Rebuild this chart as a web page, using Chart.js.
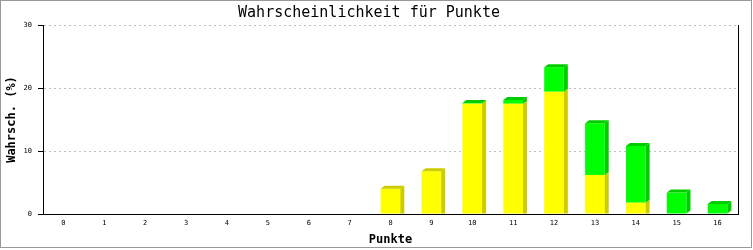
<!DOCTYPE html>
<html>
<head>
<meta charset="utf-8">
<script src="https://cdn.jsdelivr.net/npm/chart.js@4.4.1/dist/chart.umd.min.js"></script>
<style>
  html, body { margin: 0; padding: 0; background: #fff; }
  canvas { display: block; }
</style>
</head>
<body>
<canvas id="chart" width="753" height="250"></canvas>
<script>
const CATEGORIES  = ['0','1','2','3','4','5','6','7','8','9','10','11','12','13','14','15','16'];
const SERIES_GELB = [0, 0, 0, 0, 0, 0, 0, 0, 4.0, 6.8, 17.5, 17.5, 19.4, 6.2, 1.8, 0, 0];
const SERIES_GRUEN = [0, 0, 0, 0, 0, 0, 0, 0, 0, 0, 0.1, 0.6, 3.9, 8.2, 9.0, 3.4, 1.6];
const Y_TICKS     = [0, 10, 20, 30];

const TITLE   = 'Wahrscheinlichkeit für Punkte';
const X_TITLE = 'Punkte';
const Y_TITLE = 'Wahrsch. (%)';

const MONO  = '"DejaVu Sans Mono", monospace';
const DEPTH_X = 4;
const DEPTH_Y = 3;

const SIDE_COLORS = ['#cccc00', '#00cc00'];

// side and top faces for the fake 3d look
const bar3d = {
  id: 'bar3d',
  afterDatasetsDraw(chart) {
    const ctx = chart.ctx;
    const n = CATEGORIES.length;
    for (let i = 0; i < n; i++) {
      let topIdx = -1;
      chart.data.datasets.forEach((ds, di) => { if (ds.data[i] > 0) topIdx = di; });
      chart.data.datasets.forEach((ds, di) => {
        if (!(ds.data[i] > 0)) return;
        const el = chart.getDatasetMeta(di).data[i];
        const right = el.x + el.width / 2;
        const left  = el.x - el.width / 2;
        const top   = el.y;
        const bot   = el.base;
        ctx.save();
        ctx.fillStyle = SIDE_COLORS[di];
        ctx.beginPath();
        ctx.moveTo(right, bot);
        ctx.lineTo(right + DEPTH_X, di === 0 ? bot : bot - DEPTH_Y);
        ctx.lineTo(right + DEPTH_X, top - DEPTH_Y);
        ctx.lineTo(right, top);
        ctx.closePath();
        ctx.fill();
        if (di === topIdx) {
          ctx.beginPath();
          ctx.moveTo(left, top);
          ctx.lineTo(left + DEPTH_X, top - DEPTH_Y);
          ctx.lineTo(right + DEPTH_X, top - DEPTH_Y);
          ctx.lineTo(right, top);
          ctx.closePath();
          ctx.fill();
        }
        ctx.restore();
      });
    }
  },
  afterDraw(chart) {
    const ctx = chart.ctx;
    const a = chart.chartArea;
    ctx.save();
    // right frame line of the plot
    ctx.strokeStyle = '#000';
    ctx.lineWidth = 1;
    ctx.beginPath();
    ctx.moveTo(Math.round(a.right) + 0.5, a.top);
    ctx.lineTo(Math.round(a.right) + 0.5, a.bottom + 0.5);
    ctx.stroke();
    // grey picture border
    ctx.strokeStyle = '#999999';
    ctx.strokeRect(0.5, 0.5, 751, 247);
    ctx.restore();
  }
};

const whiteBg = {
  id: 'whiteBg',
  beforeDraw(chart) {
    const ctx = chart.ctx;
    ctx.save();
    ctx.fillStyle = '#fff';
    ctx.fillRect(0, 0, chart.width, chart.height);
    ctx.restore();
  }
};

new Chart(document.getElementById('chart').getContext('2d'), {
  type: 'bar',
  data: {
    labels: CATEGORIES,
    datasets: [
      {
        label: 'gelb',
        data: SERIES_GELB,
        backgroundColor: '#ffff00',
        borderWidth: 0,
        barPercentage: 0.48,
        categoryPercentage: 1.0,
      },
      {
        label: 'gruen',
        data: SERIES_GRUEN,
        backgroundColor: '#00ff00',
        borderWidth: 0,
        barPercentage: 0.48,
        categoryPercentage: 1.0,
      }
    ]
  },
  options: {
    responsive: false,
    animation: false,
    devicePixelRatio: 1,
    layout: { padding: { left: 0, right: 15, top: 0, bottom: 0 } },
    plugins: {
      legend: { display: false },
      tooltip: { enabled: false },
      title: {
        display: true,
        text: TITLE,
        color: '#000',
        font: { family: MONO, size: 15, weight: 'normal', lineHeight: 1 },
        padding: { top: 6, bottom: 4 },
      }
    },
    scales: {
      x: {
        stacked: true,
        grid: { display: false, drawTicks: false },
        border: { display: true, color: '#000', width: 1 },
        ticks: {
          color: '#000',
          font: { family: MONO, size: 7 },
          padding: 5,
          maxRotation: 0,
          autoSkip: false,
        },
        title: {
          display: true,
          text: X_TITLE,
          color: '#000',
          font: { family: MONO, size: 12, weight: 'bold', lineHeight: 1.2 },
          padding: { top: 0, bottom: 3 },
        },
        afterFit: s => { s.height = 36; }
      },
      y: {
        stacked: true,
        min: 0,
        max: 30,
        afterBuildTicks: s => { s.ticks = Y_TICKS.map(v => ({ value: v })); },
        grid: {
          color: c => (c.tick && c.tick.value === 0) ? 'rgba(0,0,0,0)' : '#c0c0c0',
          tickColor: '#000',
          tickLength: 5,
          tickBorderDash: [],
        },
        border: { display: true, color: '#000', width: 1, dash: [2, 3] },
        ticks: {
          color: '#000',
          font: { family: MONO, size: 7 },
          padding: 6,
        },
        title: {
          display: true,
          text: Y_TITLE,
          color: '#000',
          font: { family: MONO, size: 12, weight: 'bold', lineHeight: 1.2 },
          padding: { top: 5, bottom: 0 },
        },
        afterFit: s => { s.width = 43; }
      }
    }
  },
  plugins: [whiteBg, bar3d]
});
</script>
</body>
</html>
